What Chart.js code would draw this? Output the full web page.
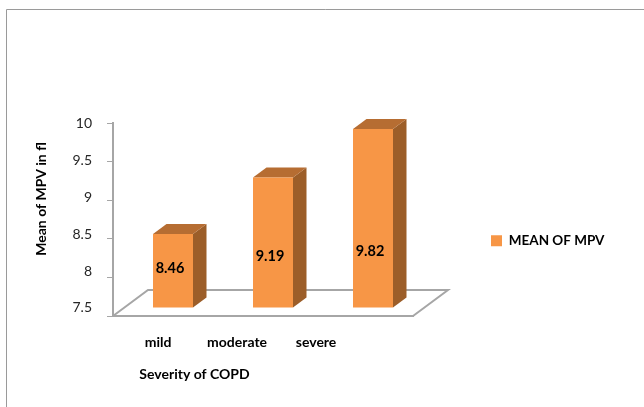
<!DOCTYPE html>
<html>
<head>
<meta charset="utf-8">
<title>Mean of MPV by severity of COPD</title>
<script src="https://cdn.jsdelivr.net/npm/chart.js@4"></script>
<style>
    body { margin: 0; background: #fff; }
    canvas { display: block; }
</style>
</head>
<body>
<canvas id="mpvChart" width="644" height="407"></canvas>
<script>
// --- Chart data ---
const categories = ['mild', 'moderate', 'severe'];
const mpvValues = [8.46, 9.19, 9.82];
const yTickValues = [7.5, 8, 8.5, 9, 9.5, 10];
const seriesName = 'MEAN OF MPV';
const xTitle = 'Severity of COPD';
const yTitle = 'Mean of MPV in fl';

const BAR_COLOR = '#F79646';
const SIDE_COLOR = '#9C5E29';
const TOP_COLOR = '#B66D32';
const AXIS_COLOR = '#A6A6A6';
const FONT = 'Lato, Carlito, sans-serif';

// Excel style 3D look: bars stand on the floor, a bit in from the front edge
const shiftX = 10, shiftY = -8;     // bar offset from the front plane
const depthX = 13.5, depthY = -10;  // depth of a single bar
const floorX = 35, floorY = -26;    // depth of the floor
const labelRise = [39, 51, 56];     // value label height above the bar foot

const fakeThreeD = {
    id: 'fakeThreeD',
    afterLayout(chart) {
        // the legend sits on its own, right of the floor
        const legend = chart.legend;
        legend.left = 487;
        legend.top = 230;
        legend.right = legend.left + legend.width;
        legend.bottom = legend.top + legend.height;
    },
    beforeDraw(chart) {
        const ctx = chart.ctx;
        // picture frame, top and left only
        ctx.save();
        ctx.strokeStyle = '#9A9A9A';
        ctx.lineWidth = 1;
        ctx.beginPath();
        ctx.moveTo(6.5, 407);
        ctx.lineTo(6.5, 9.5);
        ctx.lineTo(644, 9.5);
        ctx.stroke();
        ctx.restore();
    },
    beforeDatasetsDraw(chart) {
        const ctx = chart.ctx;
        const area = chart.chartArea;

        // floor
        ctx.save();
        ctx.strokeStyle = AXIS_COLOR;
        ctx.lineWidth = 2;
        ctx.beginPath();
        ctx.moveTo(area.left, area.bottom);
        ctx.lineTo(area.left + floorX, area.bottom + floorY);
        ctx.lineTo(area.right + floorX, area.bottom + floorY);
        ctx.lineTo(area.right, area.bottom);
        ctx.stroke();
        ctx.restore();

        // left open until afterDatasetsDraw so the bars get the same offset
        ctx.save();
        ctx.translate(shiftX, shiftY);
        chart.getDatasetMeta(0).data.forEach(bar => {
            const right = bar.x + bar.width / 2;
            const left = bar.x - bar.width / 2;

            ctx.fillStyle = SIDE_COLOR;
            ctx.beginPath();
            ctx.moveTo(right, bar.y);
            ctx.lineTo(right + depthX, bar.y + depthY);
            ctx.lineTo(right + depthX, bar.base + depthY);
            ctx.lineTo(right, bar.base);
            ctx.closePath();
            ctx.fill();

            ctx.fillStyle = TOP_COLOR;
            ctx.beginPath();
            ctx.moveTo(left, bar.y);
            ctx.lineTo(left + depthX, bar.y + depthY);
            ctx.lineTo(right + depthX, bar.y + depthY);
            ctx.lineTo(right, bar.y);
            ctx.closePath();
            ctx.fill();
        });
    },
    afterDatasetsDraw(chart) {
        const ctx = chart.ctx;
        ctx.restore();

        // value labels
        ctx.save();
        ctx.fillStyle = '#000';
        ctx.font = 'bold 14.5px ' + FONT;
        ctx.textAlign = 'center';
        ctx.textBaseline = 'middle';
        chart.getDatasetMeta(0).data.forEach((bar, i) => {
            ctx.fillText(mpvValues[i].toFixed(2), bar.x + shiftX - 3, bar.base + shiftY - labelRise[i]);
        });

        // axis titles
        ctx.font = 'bold 14px ' + FONT;
        ctx.fillText(xTitle, 194.5, 374);
        ctx.translate(41, 199);
        ctx.rotate(-Math.PI / 2);
        ctx.fillText(yTitle, 0, 0);
        ctx.restore();
    }
};

new Chart(document.getElementById('mpvChart'), {
    type: 'bar',
    data: {
        labels: categories,
        datasets: [{
            label: seriesName,
            data: mpvValues,
            base: yTickValues[0],
            backgroundColor: BAR_COLOR,
            borderWidth: 0,
            barPercentage: 0.4,
            categoryPercentage: 1,
            clip: false
        }]
    },
    plugins: [fakeThreeD],
    options: {
        responsive: false,
        animation: false,
        layout: { padding: { top: 123, right: 231, bottom: 0, left: 0 } },
        plugins: {
            tooltip: { enabled: false },
            legend: {
                position: 'chartArea',
                align: 'start',
                labels: {
                    boxWidth: 11,
                    boxHeight: 11,
                    padding: 4,
                    color: '#000',
                    font: { family: FONT, size: 13.5, weight: 'bold' }
                }
            }
        },
        scales: {
            // bar axes: lines and tick marks only
            x: {
                type: 'category',
                position: 'bottom',
                weight: 0,
                afterFit: scale => { scale.height = 1; },
                grid: { display: false, drawTicks: false },
                border: { display: true, color: AXIS_COLOR, width: 2 },
                ticks: { display: false }
            },
            y: {
                position: 'left',
                weight: 0,
                min: 7.5,
                max: 10,
                afterFit: scale => { scale.width = 6; },
                grid: { drawOnChartArea: false, tickLength: 6, color: AXIS_COLOR, tickWidth: 1 },
                border: { display: true, color: AXIS_COLOR, width: 2 },
                ticks: { display: false, stepSize: 0.5 }
            },
            // label axes: the picture's labels do not line up with the tick marks
            x2: {
                type: 'linear',
                position: 'bottom',
                weight: 1,
                offset: false, // bar charts turn this on for every x axis
                min: -0.57,
                max: 3.227,
                afterFit: scale => { scale.height = 90; },
                afterBuildTicks: scale => {
                    scale.ticks = categories.map((c, i) => ({ value: i }));
                },
                grid: { display: false, drawTicks: false, offset: false },
                border: { display: false },
                ticks: {
                    autoSkip: false,
                    maxRotation: 0,
                    padding: 17,
                    color: '#000',
                    font: { family: FONT, size: 14, weight: 'bold' },
                    callback: value => categories[value]
                }
            },
            y2: {
                type: 'linear',
                position: 'left',
                weight: 1,
                min: 7.391,
                max: 10.013,
                afterFit: scale => { scale.width = 107; },
                afterBuildTicks: scale => {
                    scale.ticks = yTickValues.map(v => ({ value: v }));
                },
                grid: { display: false, drawTicks: false },
                border: { display: false },
                ticks: {
                    padding: 15,
                    color: '#262626',
                    font: { family: FONT, size: 14 },
                    callback: value => String(value)
                }
            }
        }
    }
});
</script>
</body>
</html>
